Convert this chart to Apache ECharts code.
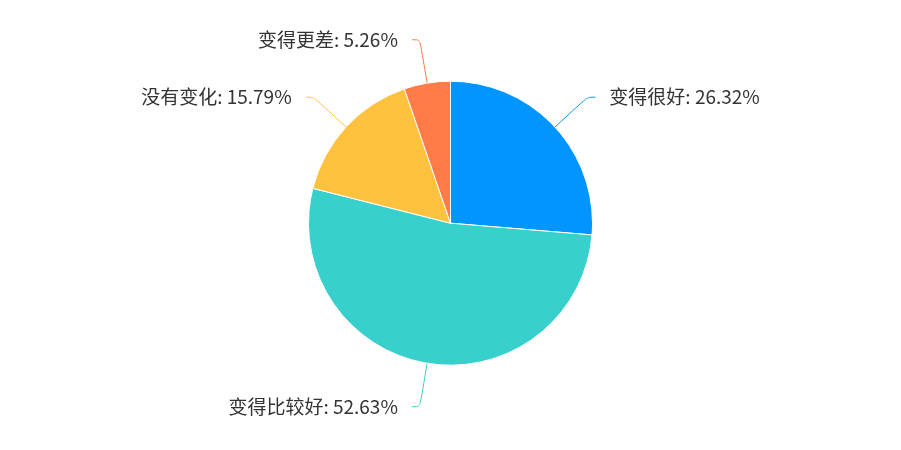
<!DOCTYPE html>
<html lang="zh">
<head>
	<meta charset="utf-8" />
	<title>Pie</title>
	<style>
		html, body { margin: 0; padding: 0; background: #fff; }
	</style>
</head>
<body>
	<div id="echarts-pie" style="width:901px;height:450px;"></div>
	<script src="https://cdn.jsdelivr.net/npm/echarts@6/dist/echarts.min.js"></script>
	<script>
		var names = ['变得很好', '变得比较好', '没有变化', '变得更差'];
		var values = [5, 10, 3, 1];
		var colors = ['#0095ff', '#37d0cc', '#ffc23e', '#ff7b47'];

		var pieData = [];
		for (var i = 0; i < names.length; i++) {
			pieData.push({ name: names[i], value: values[i] });
		}

		var myChart = echarts.init(document.getElementById('echarts-pie'));
		var option = {
			color: colors,
			animation: false,
			series: [{
				type: 'pie',
				center: ['50%', '49.6%'],
				radius: 142,
				startAngle: 90,
				data: pieData,
				itemStyle: {
					borderColor: '#fff',
					borderWidth: 1
				},
				label: {
					formatter: function (p) { return p.name + ': ' + p.percent.toFixed(2) + '%'; },
					color: '#333',
					fontSize: 19,
					padding: [6, 0, 0, 0],
					distanceToLabelLine: 14,
					fontFamily: '"Noto Sans CJK SC", sans-serif'
				},
				labelLine: {
					smooth: true,
					length: 44,
					length2: 8
				}
			}]
		};
		myChart.setOption(option);
	</script>
</body>
</html>
